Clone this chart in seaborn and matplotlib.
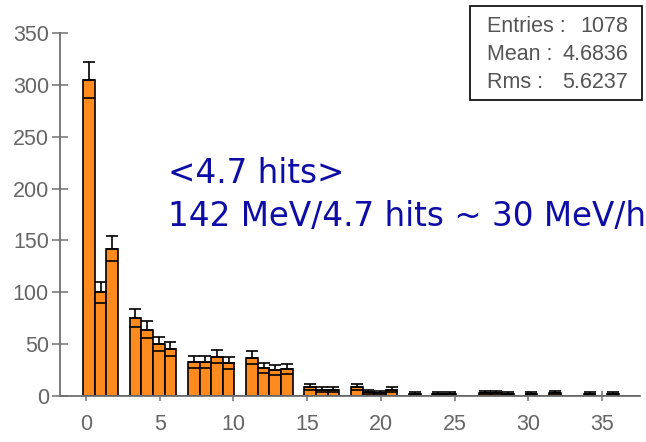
import numpy as np
import pandas as pd
import matplotlib
matplotlib.use("Agg")
import matplotlib.pyplot as plt
import seaborn as sns
from matplotlib.patches import Rectangle

#number of hits and how many events had that many hits
hit_values = list(range(37))
hit_counts = [305, 100, 142, 75, 64, 50, 45, 33, 33, 38, 32, 37, 27, 25, 26,
              9, 6, 6, 9, 4, 3, 6, 2, 0, 2, 2, 0, 3, 3, 2, 2, 0, 3, 0, 2, 0, 2]
#histogram binning: 50 bins of 0.79 starting at -0.2
bin_start = -0.2
bin_width = 0.79
n_bins = 50
x_ticks = [0, 5, 10, 15, 20, 25, 30, 35]
y_ticks = [0, 50, 100, 150, 200, 250, 300, 350]
stat_labels = ["Entries :", "Mean :", "Rms :"]
stat_values = ["1078", "4.6836", "5.6237"]
note_lines = ["<4.7 hits>", "142 MeV/4.7 hits ~ 30 MeV/hit"]

df = pd.DataFrame({"hits": hit_values, "count": hit_counts})
edges = bin_start + bin_width * np.arange(n_bins + 1)
#centre of the bin each hit value falls in, and poisson errors
idx = np.digitize(df["hits"], edges) - 1
df["centre"] = edges[idx] + bin_width / 2
df["err"] = np.sqrt(df["count"])
filled = df[df["count"] > 0]

sns.set_theme(style="white")
plt.rcParams["font.family"] = ["Liberation Sans", "DejaVu Sans"]

fig = plt.figure(figsize=(6.46, 4.42), dpi=100)
ax = fig.add_axes([60 / 646, 46 / 442, 580 / 646, 363 / 442])

bar_color = "#ff8b1f"
sns.histplot(data=df, x="hits", weights="count", bins=list(edges), ax=ax,
             color=bar_color, alpha=1, edgecolor="black", linewidth=1.2)

#upper error: line from bar top to top+err with a cap
cap_pt = bin_width * (580 / (37.58 + 1.764)) * 0.72
ax.errorbar(filled["centre"], filled["count"],
            yerr=[np.zeros(len(filled)), filled["err"]],
            fmt="none", ecolor="black", elinewidth=1.2,
            capsize=cap_pt / 2, capthick=1.2)
#lower error mark drawn across the bar
ax.plot(filled["centre"], filled["count"] - filled["err"], ls="none",
        marker="_", ms=cap_pt, mew=1.2, color="black")

ax.set_xlim(-1.764, 37.58)
ax.set_ylim(0, 350)
ax.set_xticks(x_ticks)
ax.set_yticks(y_ticks)
ax.set_xlabel("")
ax.set_ylabel("")
ax.set_axisbelow(True)
for s in ["top", "right"]:
    ax.spines[s].set_visible(False)
for s in ["left", "bottom"]:
    ax.spines[s].set_color("#707070")
    ax.spines[s].set_linewidth(1.3)
ax.tick_params(axis="y", direction="inout", length=12, width=1.1,
               color="#707070", labelcolor="#666666", labelsize=15.5, pad=2, left=True)
ax.tick_params(axis="x", direction="inout", length=6.5, width=1.1,
               color="#707070", labelcolor="#666666", labelsize=15.5, pad=10, bottom=True)

#annotation in dark blue (runs off the right edge, as in the original)
fig.text(168 / 646, 1 - 183 / 442, note_lines[0], color="#0d0da6",
         fontsize=23.5, family="DejaVu Sans", va="baseline")
fig.text(168 / 646, 1 - 226 / 442, note_lines[1], color="#0d0da6",
         fontsize=23.5, family="DejaVu Sans", va="baseline")

#stats box
fig.patches.append(Rectangle((470 / 646, 1 - 100 / 442), 172 / 646, 94 / 442,
                             transform=fig.transFigure, facecolor="white",
                             edgecolor="black", lw=1.2))
for i, (lab, val) in enumerate(zip(stat_labels, stat_values)):
    yb = 1 - (31.5 + 28.5 * i) / 442
    fig.text(487 / 646, yb, lab, color="#555555", fontsize=15.5, va="baseline")
    fig.text(628 / 646, yb, val, color="#555555", fontsize=15.5, va="baseline", ha="right")

fig.savefig("out.png", dpi=100)
